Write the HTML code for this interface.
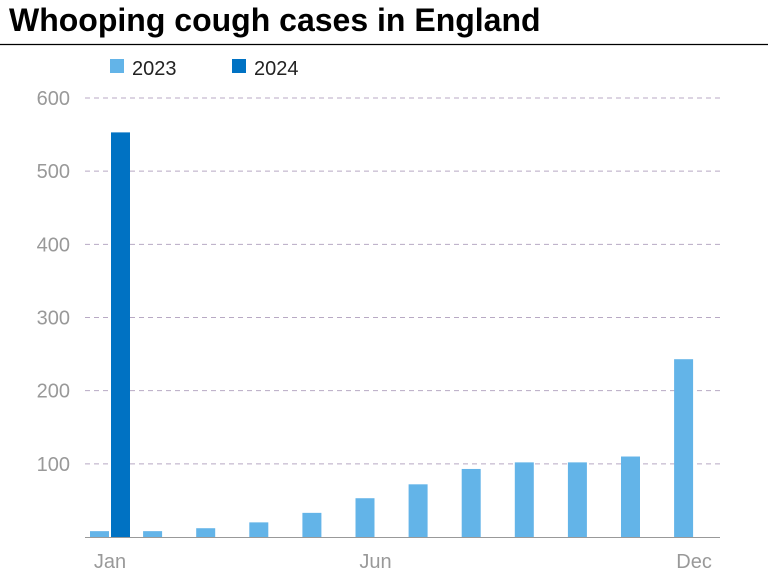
<!DOCTYPE html>
<html><head><meta charset="utf-8"><style>
body{margin:0;width:768px;height:576px;background:#fff;font-family:"Liberation Sans",sans-serif;overflow:hidden}
</style></head><body>
<svg width="768" height="576">
<text x="9" y="31" font-size="32" font-weight="bold" fill="#000" letter-spacing="0">Whooping cough cases in England</text>
<line x1="0" y1="44.5" x2="768" y2="44.5" stroke="#000" stroke-width="1.2"/>
<g>
<rect x="110" y="59" width="14" height="14" fill="#63b4e8"/>
<text x="132" y="75" font-size="20" fill="#222">2023</text>
<rect x="232" y="59" width="14" height="14" fill="#0072c3"/>
<text x="254" y="75" font-size="20" fill="#222">2024</text>
</g>
<g id="plot"></g>
</svg>
<script>
const months=["Jan","Feb","Mar","Apr","May","Jun","Jul","Aug","Sep","Oct","Nov","Dec"];
const cases2023=[8,8,12,20,33,53,72,93,102,102,110,243];
const cases2024=[553];
const yTicks=[100,200,300,400,500,600];
const xLabels=["Jan","Jun","Dec"];
const NS="http://www.w3.org/2000/svg";
const g=document.getElementById('plot');
const y0=537,x0=85,x1=720;
const y=v=>y0-v*(439/600);
const xc=i=>110+i*53.1;
function mk(t,a){const e=document.createElementNS(NS,t);for(const k in a)e.setAttribute(k,a[k]);g.appendChild(e);return e;}
yTicks.forEach(v=>{
 const l=mk('line',{x1:x0,x2:x1,y1:y(v),y2:y(v),stroke:'#b8a9c4','stroke-dasharray':'5,4','stroke-width':1});
 
 
 const t=mk('text',{x:70,y:y(v)+7,'font-size':20,fill:'#999','text-anchor':'end'});t.textContent=v;
 
 
});
cases2023.forEach((v,i)=>{
 const r=mk('rect',{x:xc(i)-20,y:y(v),width:19,height:y0-y(v),fill:'#63b4e8'});
 
 
});
cases2024.forEach((v,i)=>{
 const r=mk('rect',{x:xc(i)+1,y:y(v),width:19,height:y0-y(v),fill:'#0072c3'});
 
 
});
const b=mk('line',{x1:x0,x2:x1,y1:y0+0.5,y2:y0+0.5,stroke:'#999','stroke-width':1});


xLabels.forEach(m=>{
 const i=months.indexOf(m);
 const t=mk('text',{x:xc(i),y:568,'font-size':20,fill:'#999','text-anchor':'middle'});t.textContent=m;
 
 
});
</script>
</body></html>
